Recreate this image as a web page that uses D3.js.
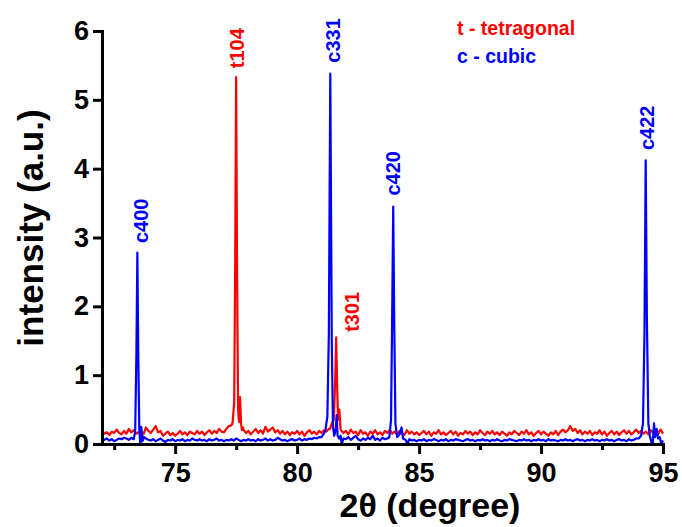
<!DOCTYPE html>
<html lang="en">
<head>
<meta charset="UTF-8">
<script src="https://cdnjs.cloudflare.com/ajax/libs/d3/7.8.5/d3.min.js"></script>
<title>XRD pattern</title>
<style>
    body { margin: 0; background: #fff; }
    text { font-family: "Liberation Sans", Arial, sans-serif; font-weight: bold; }
</style>
</head>
<body>
<svg id="chart" width="682" height="527"></svg>
<script>
    // measurement grid: 72.0 .. 95.0 deg, step 0.1 (null = covered by a peak list)
    const gridStart = 72, gridStep = 0.1;

    const redGrid = [
        .20,.15,.17,.13,.18,.16,.21,.16,.14,.19,
        .15,.22,.17,.20,.15,.17,.19,.14,.24,.19,
        .16,.21,.26,.17,.19,.12,.15,.18,.13,.16,
        .12,.15,.19,.14,.17,.13,.18,.16,.14,.19,
        .15,.18,.13,.17,.20,.15,.19,.16,.22,.18,
        .17,.22,.26,.27,null,null,null,null,.21,.16,
        .19,.14,.18,.22,.16,.20,.15,.25,.18,.21,
        .24,.17,.20,.15,.19,.14,.18,.13,.17,.15,
        .19,.14,.18,.12,.17,.20,.15,.18,.14,.19,
        .16,.20,.18,.22,null,null,null,null,.20,.16,
        .19,.14,.21,.16,.18,.13,.20,.15,.17,.12,
        .18,.15,.20,.14,.17,.13,.19,.16,.21,.15,
        .18,.14,.19,.16,.13,.20,.15,.18,.14,.17,
        .13,.16,.19,.14,.18,.12,.17,.15,.20,.14,
        .17,.13,.16,.19,.14,.18,.12,.16,.14,.19,
        .15,.18,.13,.17,.14,.20,.16,.13,.18,.15,
        .19,.14,.17,.13,.18,.15,.12,.17,.14,.19,
        .16,.13,.18,.15,.20,.14,.17,.12,.16,.19,
        .14,.18,.15,.12,.17,.14,.19,.13,.18,.21,
        .17,.20,.26,.19,.22,.16,.20,.14,.18,.15,
        .19,.13,.17,.15,.20,.14,.18,.12,.16,.19,
        .14,.18,.13,.17,.20,.15,.19,.14,.17,.21,
        .16,.19,.15,.18,.14,.20,.16,.19,.15,.21,
        .15
    ];

    const blueGrid = [
        .09,.06,.08,.05,.07,.04,.06,.08,.07,.09,
        .08,.06,.09,.07,null,null,null,null,.08,.06,
        .05,.07,.04,.06,.08,.05,.03,.06,.05,.07,
        .04,.06,.05,.07,.04,.06,.05,.08,.06,.05,
        .07,.05,.06,.04,.07,.05,.06,.08,.05,.06,
        .04,.06,.05,.07,.05,.08,.06,.04,.06,.05,
        .07,.05,.06,.04,.07,.05,.06,.08,.05,.07,
        .05,.06,.09,.07,.05,.06,.04,.06,.07,.05,
        .06,.08,.05,.07,.06,.08,.07,.09,.08,.10,
        null,null,null,null,null,null,null,null,null,null,
        .07,.10,.06,.09,.12,.07,.05,.08,.06,.09,
        .07,.12,.06,.08,.05,.09,.07,null,null,null,
        null,null,null,null,null,null,.07,.05,.06,.04,
        .06,.05,.07,.04,.06,.05,.07,.06,.04,.06,
        .05,.07,.04,.06,.05,.07,.06,.05,.04,.06,
        .07,.05,.06,.04,.06,.05,.07,.05,.06,.04,
        .06,.05,.07,.05,.04,.06,.05,.07,.06,.05,
        .04,.06,.05,.07,.05,.06,.04,.06,.05,.07,
        .05,.06,.04,.07,.05,.06,.05,.04,.06,.05,
        .07,.05,.06,.04,.06,.07,.05,.06,.04,.06,
        .05,.07,.05,.06,.04,.06,.05,.07,.05,.06,
        .04,.06,.07,.05,.06,.04,.07,.05,.06,.08,
        null,null,null,null,null,null,null,null,null,null,
        null
    ];

    // peak regions [2theta, intensity]
    const t104 = [[77.35,0.30],[77.42,0.60],[77.46,2.6],[77.50,5.33],[77.54,2.4],[77.58,0.50],
                  [77.62,0.32],[77.66,0.68],[77.70,0.30],[77.74,0.20],[77.78,0.24]];
    const t301 = [[81.35,0.22],[81.42,0.30],[81.50,0.35],[81.56,0.90],[81.60,1.55],[81.64,0.85],
                  [81.68,0.35],[81.73,0.50],[81.78,0.22]];

    const c400 = [[73.36,0.18],[73.41,1.3],[73.45,2.78],[73.49,1.2],[73.53,0.20],[73.57,0.0],
                  [73.61,0.25],[73.66,0.04],[73.72,0.10]];
    const c331 = [[81.00,0.10],[81.08,0.14],[81.16,0.20],[81.24,0.40],[81.30,1.6],[81.36,5.38],
                  [81.42,1.5],[81.47,0.25],[81.52,0.12],[81.58,0.20],[81.62,0.42],[81.66,0.12],
                  [81.72,0.08],[81.78,0.12],[81.83,0.0],[81.90,0.08]];
    const c420 = [[83.70,0.08],[83.78,0.10],[83.85,0.35],[83.90,2.0],[83.94,3.45],[83.98,1.8],
                  [84.03,0.30],[84.10,0.10],[84.20,0.14],[84.28,0.24],[84.34,0.08],[84.45,0.06],
                  [84.52,0.0]];
    const c422 = [[94.00,0.08],[94.10,0.12],[94.18,0.30],[94.24,1.6],[94.29,4.12],[94.34,1.8],
                  [94.40,0.30],[94.46,0.12],[94.53,0.02],[94.58,0.0],[94.63,0.30],[94.68,0.10],
                  [94.74,0.22],[94.80,0.08],[94.87,0.10],[94.93,0.0],[95.00,0.05]];

    // peak annotations: text, 2theta and intensity of the label start
    const peakNames  = ["c400", "t104", "c331", "t301", "c420", "c422"];
    const peakLabelX = [73.61, 77.53, 81.47, 82.26, 83.93, 94.33];
    const peakLabelY = [2.92, 5.46, 5.54, 1.63, 3.61, 4.27];
    const peakPhase  = ["c", "t", "c", "t", "c", "c"];

    const xTicks = [75, 80, 85, 90, 95];
    const xMinor = [72.5, 77.5, 82.5, 87.5, 92.5];
    const yTicks = [0, 1, 2, 3, 4, 5, 6];

    const legendText = ["t - tetragonal", "c - cubic"];
    const colors = {t: "#ff0000", c: "#0000ff"};

    let toPoints = (grid, peaks) => {
        let pts = [];
        grid.forEach((v, i) => {
            if (v !== null) pts.push([+(gridStart + i * gridStep).toFixed(2), v]);
        });
        peaks.forEach(p => { pts = pts.concat(p); });
        return pts.sort((a, b) => a[0] - b[0]);
    };

    const redData = toPoints(redGrid, [t104, t301]);
    const blueData = toPoints(blueGrid, [c400, c331, c420, c422]);

    const svg = d3.select("#chart");
    const x = d3.scaleLinear().domain([72, 95]).range([102, 663]);
    const y = d3.scaleLinear().domain([0, 6]).range([444, 31]);

    const line = d3.line().x(d => x(d[0])).y(d => y(d[1]));

    svg.append("path").datum(redData)
        .attr("d", line).attr("fill", "none")
        .attr("stroke", colors.t).attr("stroke-width", 2.2)
        .attr("stroke-linejoin", "round");
    svg.append("path").datum(blueData)
        .attr("d", line).attr("fill", "none")
        .attr("stroke", colors.c).attr("stroke-width", 2.2)
        .attr("stroke-linejoin", "round");

    // axes
    svg.append("g").attr("transform", "translate(0,444)")
        .call(d3.axisBottom(x).tickValues(xTicks).tickFormat(d3.format("d"))
            .tickSize(10).tickPadding(9).tickSizeOuter(0));
    svg.append("g").attr("transform", "translate(0,444)")
        .call(d3.axisBottom(x).tickValues(xMinor).tickSize(6).tickFormat(""))
        .call(g => g.select(".domain").remove());
    svg.append("g").attr("transform", "translate(102,0)")
        .call(d3.axisLeft(y).tickValues(yTicks).tickFormat(d3.format("d"))
            .tickSize(9).tickPadding(4).tickSizeOuter(0));

    svg.selectAll(".domain").attr("stroke", "#000").attr("stroke-width", 3).attr("stroke-linecap", "square");
    svg.selectAll(".tick line").attr("stroke", "#000").attr("stroke-width", 3);
    svg.selectAll(".tick text").style("font-size", "27px").attr("fill", "#000");

    // axis titles
    svg.append("text")
        .attr("x", 430).attr("y", 517)
        .attr("text-anchor", "middle")
        .style("font-size", "34px")
        .text("2\u03B8 (degree)");
    svg.append("text")
        .attr("transform", "translate(43,228) rotate(-90)")
        .attr("text-anchor", "middle")
        .style("font-size", "35px")
        .text("intensity (a.u.)");

    // peak labels
    peakNames.forEach((name, i) => {
        svg.append("text")
            .attr("transform", "translate(" + x(peakLabelX[i]) + "," + y(peakLabelY[i]) + ") rotate(-90)")
            .attr("dy", "0.36em")
            .attr("fill", colors[peakPhase[i]])
            .style("font-size", "20px")
            .text(name);
    });

    // legend
    legendText.forEach((t, i) => {
        svg.append("text")
            .attr("x", 457).attr("y", 35 + i * 28)
            .attr("fill", i === 0 ? colors.t : colors.c)
            .style("font-size", "19.5px")
            .text(t);
    });
</script>
</body>
</html>
